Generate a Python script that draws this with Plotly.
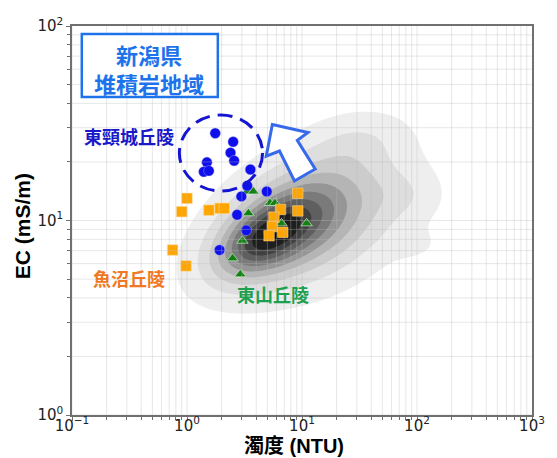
import numpy as np
import plotly.graph_objects as go

# --- samples: turbidity (NTU) and electrical conductivity EC (mS/m) ---
higashikubiki_ntu = [1.76, 2.52, 2.39, 2.57, 1.49, 1.40, 1.55, 3.56, 3.34, 4.94, 2.97, 2.73, 3.27, 1.92]
higashikubiki_ec = [28.1, 25.4, 22.3, 20.3, 19.9, 17.8, 18.0, 18.3, 15.1, 14.1, 13.3, 10.7, 8.9, 7.05]

uonuma_ntu = [9.19, 6.50, 9.19, 5.70, 5.52, 6.80, 5.17, 1.00, 0.90, 1.55, 1.94, 2.11, 0.75, 0.98]
uonuma_ec = [13.8, 11.4, 11.2, 10.4, 9.3, 8.7, 8.35, 13.0, 11.1, 11.3, 11.55, 11.55, 7.05, 5.84]

higashiyama_ntu = [3.34, 3.78, 5.27, 5.81, 3.42, 6.63, 10.96, 3.03, 2.49, 2.91]
higashiyama_ec = [14.1, 14.1, 12.3, 12.3, 10.9, 9.67, 9.67, 7.87, 6.39, 5.29]

# --- regional background density (log10 NTU, log10 EC), elliptical components ---
dens_log_ntu = [0.668, 0.813, 1.153, 1.494, 1.919, 2.004]
dens_log_ec = [0.910, 0.951, 1.028, 1.414, 1.131, 0.874]
dens_sd_ntu = [0.260, 0.425, 0.501, 0.29, 0.21, 0.17]
dens_sd_ec = [0.122, 0.195, 0.238, 0.10, 0.09, 0.06]
dens_corr = [0.526, 0.488, 0.293, 0.20, 0.0, 0.0]
dens_weight = [0.36, 0.36, 0.30, 0.08, 0.06, 0.04]

level_start, level_end, level_step = 0.06, 0.96, 0.10
band_greys = [238, 222, 204, 181, 150, 122, 95, 64, 30, 5]

x_ticks = [0.1, 1, 10, 100, 1000]
x_ticktext = ["10<sup>\u22121</sup>", "10<sup>0</sup>", "10<sup>1</sup>", "10<sup>2</sup>", "10<sup>3</sup>"]
y_ticks = [1, 10, 100]
y_ticktext = ["10<sup>0</sup>", "10<sup>1</sup>", "10<sup>2</sup>"]

# --- density grid ---
u = np.linspace(-1.0, 3.0, 401)
v = np.linspace(0.0, 2.0, 401)
U, V = np.meshgrid(u, v)
Z = np.zeros_like(U)
for cu, cv, su, sv, r, w in zip(dens_log_ntu, dens_log_ec, dens_sd_ntu, dens_sd_ec, dens_corr, dens_weight):
    du = (U - cu) / su
    dv = (V - cv) / sv
    q = (du ** 2 - 2 * r * du * dv + dv ** 2) / (1 - r ** 2)
    Z += w * np.exp(-0.5 * q)
Z /= Z.max()

n_levels = len(band_greys)
colorscale = [[0.0, "rgba(255,255,255,0)"]]
for i, g in enumerate(band_greys):
    colorscale.append([(i + 1) / n_levels, f"rgb({g},{g},{g})"])

fig = go.Figure()
fig.add_trace(go.Contour(
    x=10 ** u, y=10 ** v, z=Z,
    autocontour=False,
    contours=dict(start=level_start, end=level_end, size=level_step,
                  coloring="fill", showlines=False),
    line=dict(width=0),
    colorscale=colorscale, showscale=False, hoverinfo="skip",
))

fig.add_trace(go.Scatter(
    x=higashiyama_ntu, y=higashiyama_ec, mode="markers", name="東山丘陵",
    marker=dict(symbol="triangle-up", size=10, color="rgb(20,128,20)",
                line=dict(width=0.8, color="rgba(200,230,200,0.9)")),
))
fig.add_trace(go.Scatter(
    x=uonuma_ntu, y=uonuma_ec, mode="markers", name="魚沼丘陵",
    marker=dict(symbol="square", size=10.5, color="rgb(255,165,0)",
                line=dict(width=0.6, color="rgba(255,220,150,0.9)")),
))
fig.add_trace(go.Scatter(
    x=higashikubiki_ntu, y=higashikubiki_ec, mode="markers", name="東頸城丘陵",
    marker=dict(symbol="circle", size=10.5, color="rgb(15,15,235)",
                line=dict(width=0.5, color="rgba(180,180,255,0.8)")),
))

shapes = []
# light grid drawn over the filled density
grid_line = dict(color="rgba(185,185,185,0.35)", width=1)
for k in range(-1, 3):
    for m in range(1, 10):
        val = m * 10 ** k
        shapes.append(dict(type="line", xref="x", yref="paper", x0=val, x1=val, y0=0, y1=1,
                           line=grid_line, layer="above"))
for k in range(0, 2):
    for m in range(1, 10):
        val = m * 10 ** k
        shapes.append(dict(type="line", xref="paper", yref="y", x0=0, x1=1, y0=val, y1=val,
                           line=grid_line, layer="above"))

# dashed ring around the 東頸城丘陵 high-EC group
shapes.append(dict(type="circle", xref="paper", yref="paper",
                   x0=0.2334, x1=0.4143, y0=0.5758, y1=0.7712,
                   line=dict(color="rgb(20,20,210)", width=3, dash="15px,8px"), layer="above"))
# hollow arrow pointing toward higher EC / lower turbidity
arrow_pts = [(0.4355, 0.7468), (0.5128, 0.7262), (0.4898, 0.7062), (0.5287, 0.6324),
             (0.4836, 0.6015), (0.4511, 0.6787), (0.4223, 0.6653)]
path = "M " + " L ".join(f"{a:.4f},{b:.4f}" for a, b in arrow_pts) + " Z"
shapes.append(dict(type="path", xref="paper", yref="paper", path=path,
                   fillcolor="white", line=dict(color="rgb(55,105,235)", width=3), layer="above"))
# title box
shapes.append(dict(type="rect", xref="paper", yref="paper",
                   x0=0.0213, x1=0.317, y0=0.8175, y1=0.9794,
                   fillcolor="white", line=dict(color="rgb(30,115,235)", width=2.5), layer="above"))

cjk = "Noto Sans CJK JP"
annotations = [
    dict(text="<b>新潟県</b>", x=0.167, y=0.929, font=dict(size=22, color="rgb(30,115,235)", family=cjk)),
    dict(text="<b>堆積岩地域</b>", x=0.1677, y=0.8522, font=dict(size=22, color="rgb(30,115,235)", family=cjk)),
    dict(text="<b>東頸城丘陵</b>", x=0.1245, y=0.716, font=dict(size=18, color="rgb(25,25,200)", family=cjk)),
    dict(text="<b>魚沼丘陵</b>", x=0.124, y=0.3509, font=dict(size=18, color="rgb(240,120,35)", family=cjk)),
    dict(text="<b>東山丘陵</b>", x=0.4362, y=0.311, font=dict(size=18, color="rgb(30,160,80)", family=cjk)),
    dict(text="<b>EC (mS/m)</b>", x=-0.106, y=0.486, textangle=-90,
         font=dict(size=21, color="black", family="Liberation Sans, " + cjk)),
    dict(text="<b>濁度 (NTU)</b>", x=0.483, y=-0.079,
         font=dict(size=20, color="black", family="Liberation Sans, " + cjk)),
]
for a in annotations:
    a.update(xref="paper", yref="paper", showarrow=False, xanchor="center", yanchor="middle")

x_minor = [m * 10 ** k for k in range(-1, 3) for m in range(2, 10)]
y_minor = [m * 10 ** k for k in range(0, 2) for m in range(2, 10)]
axis_common = dict(
    type="log", showline=True, mirror=True, linecolor="#707070", linewidth=1.5,
    ticks="outside", ticklen=4, tickwidth=1, tickcolor="#707070",
    showgrid=False, zeroline=False,
    tickfont=dict(size=15, family="DejaVu Sans", color="#222"),
)
fig.update_layout(
    width=557, height=458,
    margin=dict(l=72, r=15, t=26, b=43),
    paper_bgcolor="white", plot_bgcolor="white",
    showlegend=False,
    xaxis=dict(range=[-1, 3], tickmode="array", tickvals=x_ticks, ticktext=x_ticktext,
               ticklabelstandoff=-8,
               minor=dict(tickmode="array", tickvals=x_minor, ticks="outside", ticklen=3,
                          tickcolor="#707070", showgrid=False),
               **axis_common),
    yaxis=dict(range=[0, 2], tickmode="array", tickvals=y_ticks, ticktext=y_ticktext,
               minor=dict(tickmode="array", tickvals=y_minor, ticks="outside", ticklen=3,
                          tickcolor="#707070", showgrid=False),
               **axis_common),
    shapes=shapes,
    annotations=annotations,
)

fig.write_html("out.html")
